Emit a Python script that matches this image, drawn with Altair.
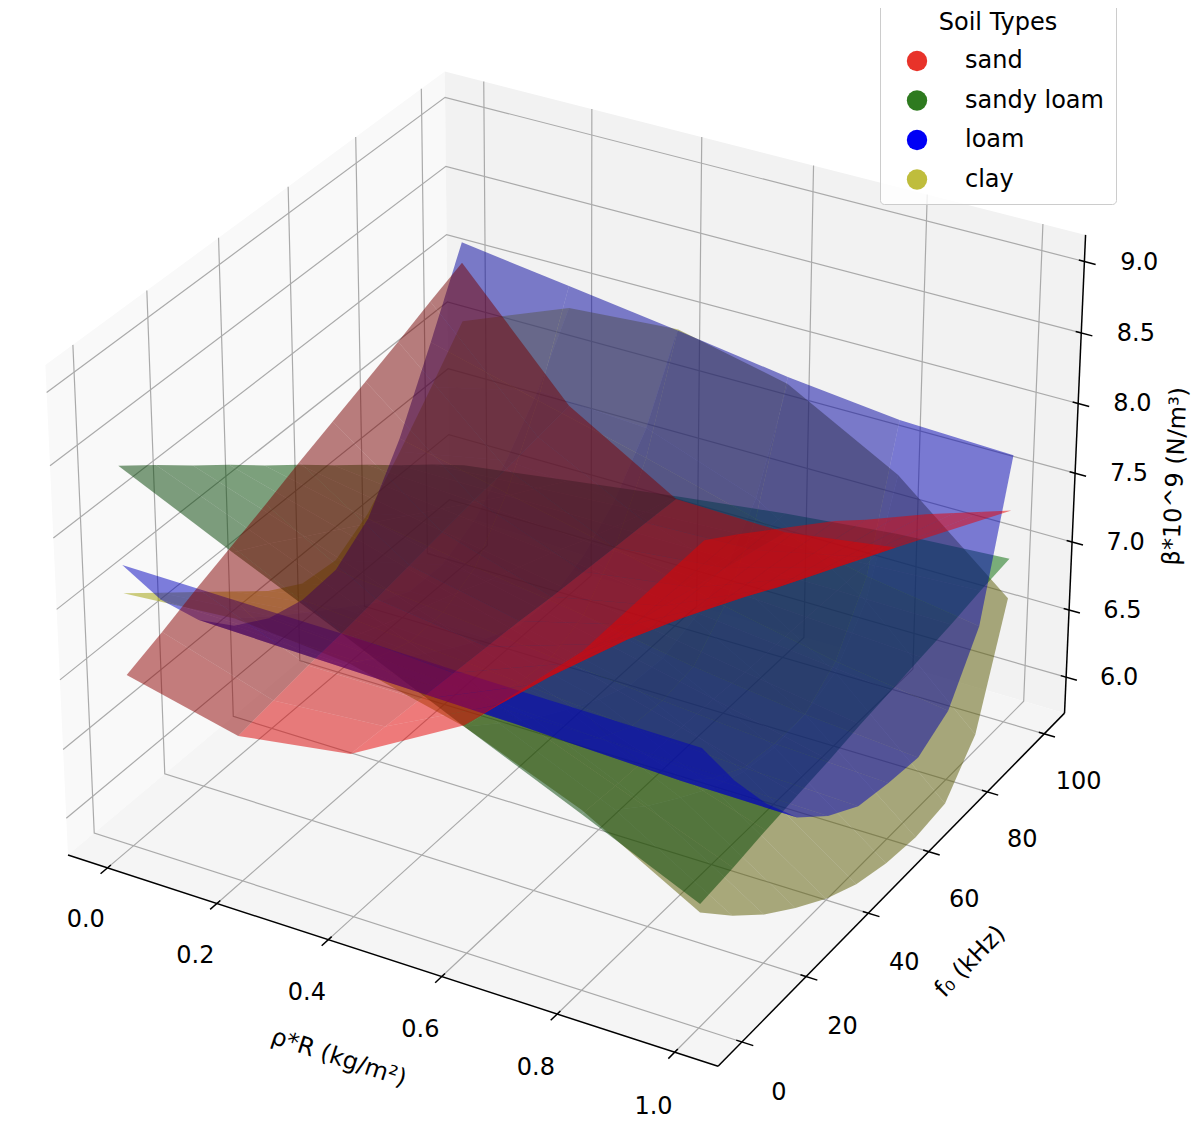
import math
import altair as alt

# ---------------- axis ticks / labels ----------------
x_ticks = [0.0, 0.2, 0.4, 0.6, 0.8, 1.0]
x_tick_labels = ["0.0", "0.2", "0.4", "0.6", "0.8", "1.0"]
y_ticks = [0, 20, 40, 60, 80, 100]
y_tick_labels = ["0", "20", "40", "60", "80", "100"]
z_ticks = [6.0, 6.5, 7.0, 7.5, 8.0, 8.5, 9.0]
z_tick_labels = ["6.0", "6.5", "7.0", "7.5", "8.0", "8.5", "9.0"]

# view limits of the 3-D box
x_lim = [-0.0729, 1.0729]
y_lim = [-7.29, 107.29]
z_lim = [5.73, 9.185]

x_title = "ρ*R (kg/m²)"
y_title = "f₀ (kHz)"
z_title = "β*10^9 (N/m³)"
legend_title = "Soil Types"

soil_types = ["sand", "sandy loam", "loam", "clay"]
legend_colors = ["#e8332a", "#2e7a1f", "#0000f5", "#bfbd3c"]
surface_base = {
    "sand": (1.0, 0.0, 0.0),
    "sandy loam": (0.0, 0.5, 0.0),
    "loam": (0.0, 0.0, 1.0),
    "clay": (0.75, 0.75, 0.0),
}

# ---------------- surface grids (rows: f0, columns: rho*R) ----------------
rho_r = [0.0, 0.2, 0.4, 0.6, 0.8, 1.0]
f0 = [0, 10, 20, 30, 40, 50, 60, 70, 80, 90, 100]

sand = [
    [6.97, 6.78, 6.90, 7.35, 8.10, 9.08],
    [7.07, 6.82, 6.88, 7.28, 7.97, 8.92],
    [7.18, 6.86, 6.86, 7.21, 7.84, 8.75],
    [7.28, 6.89, 6.84, 7.15, 7.71, 8.58],
    [7.38, 6.93, 6.82, 7.08, 7.58, 8.41],
    [7.49, 6.97, 6.80, 7.01, 7.45, 8.22],
    [7.59, 7.01, 6.77, 6.94, 7.31, 8.04],
    [7.69, 7.05, 6.75, 6.87, 7.18, 7.86],
    [7.79, 7.08, 6.73, 6.81, 7.05, 7.67],
    [7.90, 7.12, 6.71, 6.74, 6.92, 7.48],
    [8.00, 7.16, 6.69, 6.67, 6.79, 7.29],
]
sandy_loam = [
    [8.44, 8.07, 7.71, 7.34, 6.98, 6.61],
    [8.25, 7.93, 7.60, 7.28, 6.96, 6.64],
    [8.05, 7.78, 7.50, 7.23, 6.95, 6.68],
    [7.86, 7.63, 7.40, 7.17, 6.94, 6.71],
    [7.66, 7.48, 7.29, 7.11, 6.93, 6.74],
    [7.47, 7.33, 7.19, 7.05, 6.91, 6.78],
    [7.27, 7.18, 7.09, 6.99, 6.90, 6.81],
    [7.08, 7.03, 6.98, 6.94, 6.89, 6.84],
    [6.88, 6.88, 6.88, 6.88, 6.88, 6.87],
    [6.69, 6.74, 6.79, 6.83, 6.87, 6.91],
    [6.49, 6.60, 6.71, 6.81, 6.89, 6.94],
]
loam = [
    [7.75, 7.74, 7.73, 7.71, 7.70, 7.69],
    [7.30, 7.29, 7.28, 7.26, 7.26, 7.25],
    [6.95, 6.93, 6.91, 6.89, 6.87, 6.87],
    [6.70, 6.66, 6.63, 6.59, 6.56, 6.55],
    [6.55, 6.50, 6.45, 6.40, 6.36, 6.34],
    [6.48, 6.41, 6.35, 6.27, 6.22, 6.19],
    [6.50, 6.42, 6.33, 6.25, 6.18, 6.14],
    [6.68, 6.55, 6.43, 6.29, 6.18, 6.11],
    [7.08, 6.90, 6.72, 6.53, 6.36, 6.24],
    [7.60, 7.39, 7.19, 6.97, 6.78, 6.65],
    [8.15, 8.04, 7.93, 7.81, 7.72, 7.69],
]
clay = [
    [7.55, 7.61, 7.54, 7.34, 7.01, 6.55],
    [7.35, 7.42, 7.36, 7.15, 6.79, 6.30],
    [7.15, 7.24, 7.18, 6.97, 6.60, 6.08],
    [6.95, 7.07, 7.02, 6.82, 6.44, 5.90],
    [6.75, 6.90, 6.88, 6.68, 6.29, 5.74],
    [6.60, 6.78, 6.77, 6.58, 6.19, 5.62],
    [6.57, 6.77, 6.76, 6.56, 6.15, 5.55],
    [6.72, 6.90, 6.87, 6.64, 6.18, 5.52],
    [6.98, 7.14, 7.08, 6.79, 6.28, 5.55],
    [7.27, 7.46, 7.41, 7.12, 6.60, 5.85],
    [7.57, 7.88, 7.94, 7.76, 7.32, 6.65],
]
surfaces = {"sand": sand, "sandy loam": sandy_loam, "loam": loam, "clay": clay}
draw_order = ["clay", "sandy loam", "loam", "sand"]

# ---------------- 3-D perspective projection (elev 30, azim -60) ----------------
ELEV, AZIM, DIST = 30.0, -60.0, 10.0
BOX = (8.0 / 7.0, 8.0 / 7.0, 6.0 / 7.0)
_e, _a = math.radians(ELEV), math.radians(AZIM)
W = (math.cos(_e) * math.cos(_a), math.cos(_e) * math.sin(_a), math.sin(_e))
U = (-math.sin(_a), math.cos(_a), 0.0)
V = (W[1] * U[2] - W[2] * U[1], W[2] * U[0] - W[0] * U[2], W[0] * U[1] - W[1] * U[0])
LIGHT = (-0.6667, -0.6667, 0.3333)


def project(x, y, z):
    q = (
        ((x - x_lim[0]) / (x_lim[1] - x_lim[0]) - 0.5) * BOX[0],
        ((y - y_lim[0]) / (y_lim[1] - y_lim[0]) - 0.5) * BOX[1],
        ((z - z_lim[0]) / (z_lim[1] - z_lim[0]) - 0.5) * BOX[2],
    )
    uq = sum(U[i] * q[i] for i in range(3))
    vq = sum(V[i] * q[i] for i in range(3))
    wq = sum(W[i] * q[i] for i in range(3))
    d = DIST - wq
    return [uq / d, vq / d], wq


def line_feature(pts):
    return {"type": "Feature",
            "geometry": {"type": "LineString", "coordinates": [project(*p)[0] for p in pts]},
            "properties": {}}


def poly_feature(pts, fill):
    coords = [project(*p)[0] for p in pts]
    coords.append(coords[0])
    return {"type": "Feature",
            "geometry": {"type": "Polygon", "coordinates": [coords]},
            "properties": {"fill": fill}}


def to_hex(rgb):
    return "#%02x%02x%02x" % tuple(max(0, min(255, int(round(c * 255)))) for c in rgb)


x0, x1 = x_lim
y0, y1 = y_lim
z0, z1 = z_lim
dx, dy, dz = x1 - x0, y1 - y0, z1 - z0

# panes
panes = [
    poly_feature([(x0, y0, z0), (x0, y1, z0), (x0, y1, z1), (x0, y0, z1)], "#f9f9f9"),
    poly_feature([(x0, y1, z0), (x1, y1, z0), (x1, y1, z1), (x0, y1, z1)], "#f2f2f2"),
    poly_feature([(x0, y0, z0), (x1, y0, z0), (x1, y1, z0), (x0, y1, z0)], "#f5f5f5"),
]

# grid lines
grid = []
for t in x_ticks:
    grid.append(line_feature([(t, y0, z0), (t, y1, z0), (t, y1, z1)]))
for t in y_ticks:
    grid.append(line_feature([(x1, t, z0), (x0, t, z0), (x0, t, z1)]))
for t in z_ticks:
    grid.append(line_feature([(x0, y0, t), (x0, y1, t), (x1, y1, t)]))

# axis lines and tick marks
axes = [
    line_feature([(x0, y0, z0), (x1, y0, z0)]),
    line_feature([(x1, y0, z0), (x1, y1, z0)]),
    line_feature([(x1, y1, z0), (x1, y1, z1)]),
]
for t in x_ticks:
    axes.append(line_feature([(t, y0 - 0.2 * dy / 12, z0), (t, y0 + 0.1 * dy / 12, z0)]))
for t in y_ticks:
    axes.append(line_feature([(x1 + 0.2 * dx / 12, t, z0), (x1 - 0.1 * dx / 12, t, z0)]))
for t in z_ticks:
    axes.append(line_feature([(x1 + 0.2 * dx / 12, y1, t), (x1 - 0.1 * dx / 12, y1, t)]))

# tick labels
F = 0.055
x_lab = []
for t, s in zip(x_ticks, x_tick_labels):
    p = project(t, y0 - F * dy, z0 - F * dz)[0]
    x_lab.append({"lon": p[0], "lat": p[1], "label": s})
y_lab = []
for t, s in zip(y_ticks, y_tick_labels):
    p = project(x1 + F * dx, t, z0 - F * dz)[0]
    y_lab.append({"lon": p[0], "lat": p[1], "label": s})
z_lab = []
for t, s in zip(z_ticks, z_tick_labels):
    p = project(x1 + F * dx, y1 + F * dy, t)[0]
    z_lab.append({"lon": p[0], "lat": p[1], "label": s})

# axis titles
px_t = project(0.5, y0 - 0.125 * dy, z0 - 0.113 * dz)[0]
py_t = project(x1 + 0.115 * dx, 50, z0 - 0.115 * dz)[0]
pz_t = project(x1 + 0.1125 * dx, y1 + 0.1125 * dy, (z0 + z1) / 2)[0]

# surfaces: quads sorted far-to-near inside each surface
surface_features = []
for name in draw_order:
    grid_z = surfaces[name]
    base = surface_base[name]
    quads = []
    for j in range(len(f0) - 1):
        for i in range(len(rho_r) - 1):
            xa, xb = rho_r[i], rho_r[i + 1]
            ya, yb = f0[j], f0[j + 1]
            z00, z10 = grid_z[j][i], grid_z[j][i + 1]
            z01, z11 = grid_z[j + 1][i], grid_z[j + 1][i + 1]
            zx = ((z10 + z11) - (z00 + z01)) / (2 * (xb - xa))
            zy = ((z01 + z11) - (z00 + z10)) / (2 * (yb - ya))
            n = (-zx, -zy, 1.0)
            nn = math.sqrt(sum(c * c for c in n))
            s = sum(n[k] * LIGHT[k] for k in range(3)) / nn
            fac = 0.3 + 0.7 * (s + 1) / 2
            fill = to_hex(tuple(c * fac for c in base))
            pts = [(xa, ya, z00), (xb, ya, z10), (xb, yb, z11), (xa, yb, z01)]
            depth = sum(project(*p)[1] for p in pts) / 4
            quads.append((depth, poly_feature(pts, fill)))
    quads.sort(key=lambda q: q[0])
    surface_features.extend(q[1] for q in quads)

PROJ = dict(type="identity", reflectY=True, scale=6518, translate=[567.1, 538.0])
FONT = "DejaVu Sans"

pane_layer = alt.Chart(alt.Data(values=panes)).mark_geoshape(strokeWidth=0).encode(
    fill=alt.Fill("properties.fill:N", scale=None)).project(**PROJ)
grid_layer = alt.Chart(alt.Data(values=grid)).mark_geoshape(
    filled=False, stroke="#aaaaaa", strokeWidth=1.2).project(**PROJ)
axis_layer = alt.Chart(alt.Data(values=axes)).mark_geoshape(
    filled=False, stroke="black", strokeWidth=1.5).project(**PROJ)


def label_layer(rows, ddy):
    return alt.Chart(alt.Data(values=rows)).mark_text(
        font=FONT, fontSize=24, align="center", baseline="middle", dy=ddy, color="black").encode(
        longitude="lon:Q", latitude="lat:Q", text="label:N").project(**PROJ)


def title_layer(pt, text, angle, sx, sy):
    # (sx, sy) is a screen-space nudge; Vega applies dx/dy in the rotated text frame
    th = math.radians(angle)
    ddx = sx * math.cos(th) + sy * math.sin(th)
    ddy = -sx * math.sin(th) + sy * math.cos(th)
    return alt.Chart(alt.Data(values=[{"lon": pt[0], "lat": pt[1], "t": text}])).mark_text(
        font=FONT, fontSize=24, align="center", baseline="middle", angle=angle,
        dx=round(ddx, 2), dy=round(ddy, 2),
        color="black").encode(longitude="lon:Q", latitude="lat:Q", text="t:N").project(**PROJ)


surface_layer = alt.Chart(alt.Data(values=surface_features)).mark_geoshape(
    strokeWidth=0, fillOpacity=0.5).encode(
    fill=alt.Fill("properties.fill:N", scale=None)).project(**PROJ)

anchor = project(x1, y1, z0)[0]
legend_layer = alt.Chart(alt.Data(values=[{"soil": s, "lon": anchor[0], "lat": anchor[1]}
                                          for s in soil_types])).mark_circle(opacity=0, size=10).encode(
    longitude="lon:Q", latitude="lat:Q",
    color=alt.Color("soil:N", scale=alt.Scale(domain=soil_types, range=legend_colors),
                    legend=alt.Legend(title=legend_title, orient="none", legendX=872, legendY=-9,
                                      titleFont=FONT, titleFontSize=24, titleFontWeight="normal",
                                      titleColor="black", titleAnchor="middle", titlePadding=14,
                                      labelFont=FONT, labelFontSize=24, labelColor="black",
                                      labelOffset=36, symbolType="circle", symbolSize=415,
                                      symbolOpacity=1, symbolStrokeWidth=0, symbolOffset=13,
                                      rowPadding=15.5, padding=12, strokeColor="#cccccc",
                                      fillColor="rgba(255,255,255,0.8)", cornerRadius=4))).project(**PROJ)

chart = alt.layer(
    pane_layer, grid_layer, axis_layer,
    label_layer(x_lab, 7), label_layer(y_lab, 12), label_layer(z_lab, 8),
    title_layer(px_t, x_title, 18.1, 3, 0),
    title_layer(py_t, y_title, 314.3, -3, 2),
    title_layer(pz_t, z_title, 272.5, -9, 12),
    surface_layer, legend_layer,
).properties(
    width=1184, height=1111, padding=0, autosize=alt.AutoSizeParams(type="none")
).configure_view(strokeWidth=0)

chart.save("out.html", embed_options={"renderer": "svg", "actions": False})
